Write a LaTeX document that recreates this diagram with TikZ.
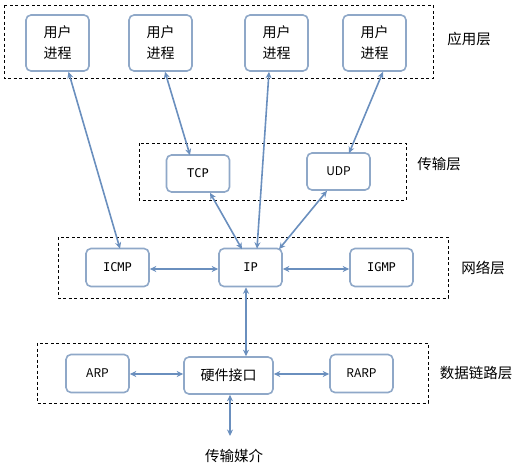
\documentclass[tikz,border=0pt]{standalone}
\usepackage{fontspec}
\usepackage{tikz}
\usetikzlibrary{arrows.meta}
\newfontfamily\cjk{Noto Sans CJK SC}
\setmonofont{DejaVu Sans Mono}
\definecolor{boxblue}{RGB}{143,168,200}
\definecolor{arrowblue}{RGB}{106,143,190}
\tikzstyle{procnode} = [rectangle, rounded corners=5pt,
minimum width=63pt,
minimum height=56pt,
align=center,
draw=boxblue,
line width=1.6pt,
fill=white,
font=\cjk\fontsize{14}{21}\selectfont]
\tikzstyle{protonode} = [procnode, minimum height=38pt, font=\cjk\fontsize{12}{14}\selectfont]
\tikzstyle{layerbox} = [draw=black, line width=0.8pt, dash pattern=on 3pt off 2.5pt]
\tikzstyle{layerlabel} = [font=\cjk\fontsize{14.5}{16}\selectfont]
\tikzstyle{arrow} = [draw=arrowblue, line width=1.6pt, {Stealth[length=6.5pt,width=6pt]}-{Stealth[length=6.5pt,width=6pt]}]

\begin{document}
\begin{tikzpicture}[x=1pt, y=-1pt]
    \useasboundingbox (0,0) rectangle (517,464);

    % Layers
    \draw [layerbox] (4,5) rectangle (433,78);
    \draw [layerbox] (139,143) rectangle (406,200);
    \draw [layerbox] (58,237) rectangle (448,298);
    \draw [layerbox] (37,343) rectangle (428,403);

    \node (app) [layerlabel] at (469,39) {应用层};
    \node (trans) [layerlabel] at (439,164) {传输层};
    \node (net) [layerlabel] at (483,268) {网络层};
    \node (link) [layerlabel] at (476,373) {数据链路层};

    % Application layer
    \node (u1) [procnode] at (57.5,43) {用户\\进程};
    \node (u2) [procnode] at (160.5,43) {用户\\进程};
    \node (u3) [procnode] at (276.5,43) {用户\\进程};
    \node (u4) [procnode] at (374.5,43) {用户\\进程};

    % Transport layer
    \node (tcp) [protonode, minimum height=37pt] at (198,173.5) {\ttfamily TCP};
    \node (udp) [protonode, minimum height=37pt] at (338.5,171.5) {UDP};

    % Network layer
    \node (icmp) [protonode] at (117.5,267.5) {\ttfamily ICMP};
    \node (ip) [protonode] at (250.5,267.5) {\ttfamily IP};
    \node (igmp) [protonode] at (381.5,267.5) {\ttfamily IGMP};

    % Data link layer
    \node (arp) [protonode] at (97.5,373.5) {ARP};
    \node (hw) [protonode, minimum width=89pt, minimum height=37pt,
        font=\cjk\fontsize{14}{16}\selectfont] at (228.5,375.5) {硬件接口};
    \node (rarp) [protonode] at (361.5,373.5) {RARP};

    \node (medium) [layerlabel] at (234,456) {传输媒介};
    \coordinate (mtop) at (230,436);

    % Vertical arcs
    \draw [arrow] ([xshift=11pt]u1.south) -- ([xshift=2.5pt, yshift=-1pt]icmp.north);
    \draw [arrow] ([xshift=4.5pt]u2.south) -- ([xshift=-8pt, yshift=-1pt]tcp.north);
    \draw [arrow] ([xshift=-7.5pt]u3.south) -- ([xshift=6.5pt, yshift=-1pt]ip.north);
    \draw [arrow] ([xshift=8.5pt]u4.south) -- ([xshift=10.5pt, yshift=-1pt]udp.north);
    \draw [arrow] ([xshift=12pt]tcp.south) -- ([xshift=-8.5pt, yshift=-1.5pt]ip.north);
    \draw [arrow] ([xshift=-11.5pt]udp.south) -- ([xshift=28.5pt, yshift=-1.5pt]ip.north);
    \draw [arrow] ([xshift=-4.5pt]ip.south) -- ([xshift=17.5pt]hw.north);
    \draw [arrow] ([xshift=1.5pt]hw.south) -- (mtop);

    % Horizontal arcs
    \draw [arrow] ([yshift=-1.5pt]icmp.east) -- ([yshift=-1.5pt]icmp.east -| ip.west);
    \draw [arrow] ([yshift=-1.5pt]ip.east) -- ([yshift=-1.5pt]ip.east -| igmp.west);
    \draw [arrow] ([yshift=-0.5pt]arp.east) -- ([yshift=-0.5pt]arp.east -| hw.west);
    \draw [arrow] ([yshift=-0.5pt]hw.east |- rarp.west) -- ([yshift=-0.5pt]rarp.west);
\end{tikzpicture}
\end{document}
